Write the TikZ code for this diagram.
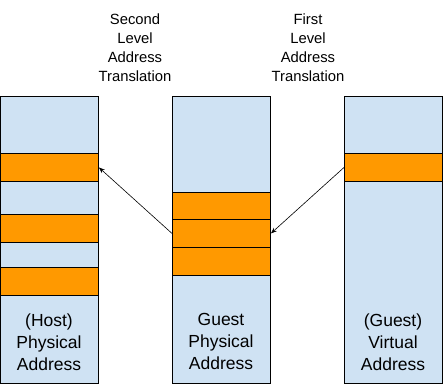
\documentclass[tikz,border=0pt]{standalone}
\usepackage{fontspec}
\setmainfont{Liberation Sans}
\usetikzlibrary{arrows.meta}
\definecolor{memblue}{HTML}{CFE2F3}
\definecolor{memorange}{HTML}{FF9900}
\begin{document}
\begin{tikzpicture}[x=1pt,y=-1pt,
  colbox/.style={draw=black,fill=memblue,line width=0.9pt,minimum width=98pt,minimum height=287pt,inner sep=0pt,anchor=north west},
  band/.style={draw=black,fill=memorange,line width=0.9pt,minimum width=98pt,minimum height=28pt,inner sep=0pt,anchor=north west},
  collabel/.style={align=center,font=\fontsize{17.5pt}{22pt}\selectfont,inner sep=0pt},
  toplabel/.style={align=center,font=\fontsize{14.8pt}{19pt}\selectfont,inner sep=0pt},
  maparrow/.style={-{Stealth[length=6pt,width=4.5pt]},line width=0.6pt}]
\useasboundingbox (0,0) rectangle (444,386);
% columns
\node[colbox] (host) at (0,96) {};
\node[colbox] (guest) at (172,96) {};
\node[colbox] (virt) at (344,96) {};
% host bands
\node[band] (h1) at (0,153) {};
\node[band] (h2) at (0,214) {};
\node[band] (h3) at (0,267) {};
% guest physical bands
\node[band,minimum height=27pt] (g1) at (172,192) {};
\node[band] (g2) at (172,219) {};
\node[band] (g3) at (172,247) {};
% virtual band
\node[band] (v1) at (344,153) {};
% labels
\node[collabel] (hl) at (49,342) {(Host)\\Physical\\Address};
\node[collabel] (gl) at (221,341) {Guest\\Physical\\Address};
\node[collabel] (vl) at (393,342) {(Guest)\\Virtual\\Address};
\node[toplabel] (sl) at (135,47.5) {Second\\Level\\Address\\Translation};
\node[toplabel] (fl) at (308,47.5) {First\\Level\\Address\\Translation};
% arrows
\draw[maparrow] (g2.west) -- (h1.east);
\draw[maparrow] (v1.west) -- (g2.east);
\end{tikzpicture}
\end{document}
